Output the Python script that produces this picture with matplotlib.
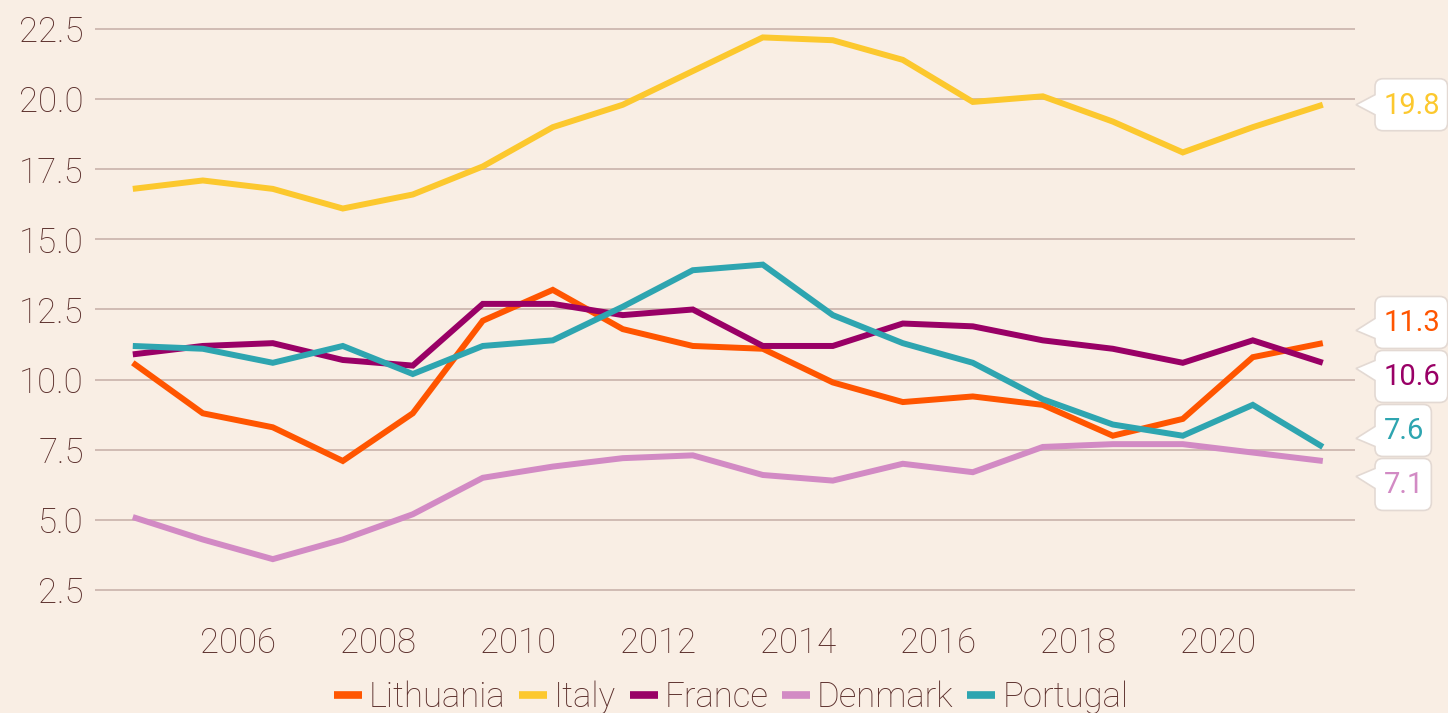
import numpy as np
import matplotlib
matplotlib.use("Agg")
import matplotlib.pyplot as plt
from matplotlib.path import Path
from matplotlib.patches import PathPatch

# ---------------- data ----------------
years = list(range(2004, 2022))
lithuania = [10.6, 8.8, 8.3, 7.1, 8.8, 12.1, 13.2, 11.8, 11.2, 11.1, 9.9, 9.2, 9.4, 9.1, 8.0, 8.6, 10.8, 11.3]
italy = [16.8, 17.1, 16.8, 16.1, 16.6, 17.6, 19.0, 19.8, 21.0, 22.2, 22.1, 21.4, 19.9, 20.1, 19.2, 18.1, 19.0, 19.8]
france = [10.9, 11.2, 11.3, 10.7, 10.5, 12.7, 12.7, 12.3, 12.5, 11.2, 11.2, 12.0, 11.9, 11.4, 11.1, 10.6, 11.4, 10.6]
denmark = [5.1, 4.3, 3.6, 4.3, 5.2, 6.5, 6.9, 7.2, 7.3, 6.6, 6.4, 7.0, 6.7, 7.6, 7.7, 7.7, 7.4, 7.1]
portugal = [11.2, 11.1, 10.6, 11.2, 10.2, 11.2, 11.4, 12.6, 13.9, 14.1, 12.3, 11.3, 10.6, 9.3, 8.4, 8.0, 9.1, 7.6]
series_names = ["Lithuania", "Italy", "France", "Denmark", "Portugal"]
series_values = [lithuania, italy, france, denmark, portugal]
colors = ["#ff5500", "#fcc82e", "#990066", "#d28ac4", "#2ea5b0"]
y_ticks = [2.5, 5.0, 7.5, 10.0, 12.5, 15.0, 17.5, 20.0, 22.5]
x_ticks = [2006, 2008, 2010, 2012, 2014, 2016, 2018, 2020]

# ---------------- style ----------------
W, H, DPI = 1448, 713, 100
BG = "#f9eee4"
TXT = "#5a2d2a"
GRID = "#c5aea6"
FONT = "Roboto"

plt.rcParams["font.family"] = [FONT, "DejaVu Sans"]
plt.rcParams["font.weight"] = "light"

fig = plt.figure(figsize=(W / DPI, H / DPI), dpi=DPI, facecolor=BG)

def px_rect(l, t, r, b):
    return [l / W, 1 - b / H, (r - l) / W, (b - t) / H]

ax = fig.add_axes(px_rect(95, 26.2, 1355, 592.8))
ax.set_facecolor(BG)

x = np.array(years) + 0.5  # yearly values shown at mid-year
for name, vals, c in zip(series_names, series_values, colors):
    ax.plot(x, vals, color=c, lw=4.3, label=name, solid_capstyle="butt",
            solid_joinstyle="miter", clip_on=False, zorder=3)

ax.set_xlim(2003.96, 2021.96)
ax.set_ylim(2.4, 22.6)
ax.set_yticks(y_ticks)
ax.set_yticklabels([f"{v:.1f}" for v in y_ticks])
ax.set_xticks(x_ticks)
ax.set_xticklabels([str(v) for v in x_ticks])
ax.tick_params(axis="both", length=0, labelsize=25, labelcolor=TXT)
ax.tick_params(axis="y", pad=8)
ax.tick_params(axis="x", pad=24)
ax.grid(axis="y", color=GRID, lw=1.1, zorder=0)
ax.grid(axis="x", visible=False)
for s in ax.spines.values():
    s.set_visible(False)

leg = fig.legend(loc="center", bbox_to_anchor=(731 / W, 1 - 697 / H),
                 ncol=5, frameon=False, fontsize=25, handlelength=0.8,
                 handleheight=0.7, handletextpad=0.2, columnspacing=0.4,
                 borderpad=0, labelcolor=TXT)
for h in leg.legend_handles:
    h.set_linewidth(5.5)

# ---------------- end-value callouts ----------------
fig.canvas.draw()
renderer = fig.canvas.get_renderer()

last_vals = [v[-1] for v in series_values]
val_px = []
for v in last_vals:
    _, yd = ax.transData.transform((x[-1], v))
    val_px.append(H - yd)

BOX_H = 52
GAP = 2
order = np.argsort(val_px)
clusters = [[i] for i in order]
def centers_of(cl):
    m = np.mean([val_px[i] for i in cl])
    n = len(cl)
    return [m + (k - (n - 1) / 2) * (BOX_H + GAP) for k in range(n)]
changed = True
while changed:
    changed = False
    for k in range(len(clusters) - 1):
        a, b = clusters[k], clusters[k + 1]
        ca, cb = centers_of(a), centers_of(b)
        if cb[0] - ca[-1] < BOX_H + GAP:
            clusters[k] = a + b
            del clusters[k + 1]
            changed = True
            break
box_c = {}
for cl in clusters:
    for i, c in zip(cl, centers_of(cl)):
        box_c[i] = c

BOX_L = 1375
TIP_X = 1356
R = 8
B = 10

def callout_path(l, t, r_, b_, tip_y, base_y):
    def P(px, py):
        return (px / DPI, (H - py) / DPI)
    verts = [P(TIP_X, tip_y), P(l, base_y + B), P(l, b_ - R), P(l, b_), P(l + R, b_),
             P(r_ - R, b_), P(r_, b_), P(r_, b_ - R), P(r_, t + R), P(r_, t), P(r_ - R, t),
             P(l + R, t), P(l, t), P(l, t + R), P(l, base_y - B), P(TIP_X, tip_y), P(TIP_X, tip_y)]
    codes = [Path.MOVETO, Path.LINETO, Path.LINETO, Path.CURVE3, Path.CURVE3,
             Path.LINETO, Path.CURVE3, Path.CURVE3, Path.LINETO, Path.CURVE3, Path.CURVE3,
             Path.LINETO, Path.CURVE3, Path.CURVE3, Path.LINETO, Path.LINETO, Path.CLOSEPOLY]
    return Path(verts, codes)

for i, (v, c) in enumerate(zip(last_vals, colors)):
    cy = box_c[i]
    t, b_ = cy - BOX_H / 2, cy + BOX_H / 2
    txt = fig.text((BOX_L + 9) / W, 1 - (cy + 1) / H, f"{v:.1f}", color=c,
                   fontsize=21, fontweight="normal", ha="left", va="center", zorder=6)
    bb = txt.get_window_extent(renderer)
    r_ = bb.x1 + 7
    tip_y = min(max(val_px[i], t + 18), b_ - 18)
    base_y = min(max(tip_y, t + R + B + 2), b_ - R - B - 2)
    patch = PathPatch(callout_path(BOX_L, t, r_, b_, tip_y, base_y),
                      transform=fig.dpi_scale_trans, facecolor="white",
                      edgecolor="#e3d9d3", lw=1.2, zorder=5)
    fig.add_artist(patch)

fig.savefig("out.png", dpi=DPI, facecolor=BG)
